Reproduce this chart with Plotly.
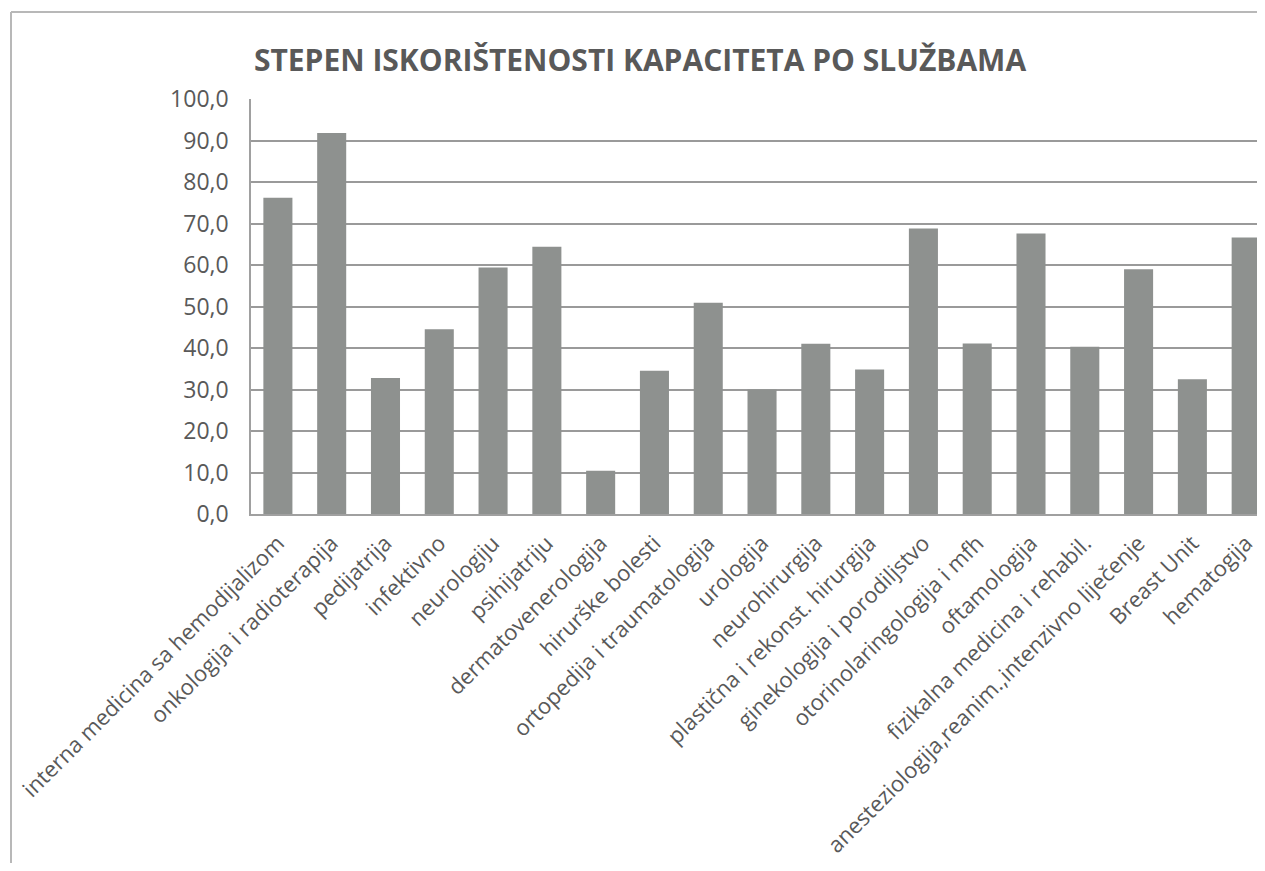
import plotly.graph_objects as go

categories = [
    "interna medicina sa hemodijalizom",
    "onkologija i radioterapija",
    "pedijatrija",
    "infektivno",
    "neurologiju",
    "psihijatriju",
    "dermatovenerologija",
    "hirurške bolesti",
    "ortopedija i traumatologija",
    "urologija",
    "neurohirurgija",
    "plastična i rekonst. hirurgija",
    "ginekologija i porodiljstvo",
    "otorinolaringologija i mfh",
    "oftamologija",
    "fizikalna medicina i rehabil.",
    "anesteziologija,reanim.,intenzivno liječenje",
    "Breast Unit",
    "hematogija",
]
values = [76.2, 91.8, 32.8, 44.5, 59.4, 64.4, 10.4, 34.5, 50.9, 30.0,
          41.0, 34.8, 68.8, 41.1, 67.6, 40.3, 59.0, 32.5, 66.6]
y_tick_vals = [0, 10, 20, 30, 40, 50, 60, 70, 80, 90, 100]
y_tick_text = ["0,0", "10,0", "20,0", "30,0", "40,0", "50,0", "60,0",
               "70,0", "80,0", "90,0", "100,0"]
title_text = "STEPEN ISKORIŠTENOSTI KAPACITETA PO SLUŽBAMA"

# page has an 8px body margin; target coordinates below are screen pixels
OFF = 8
W, H = 1265 - OFF, 871 - 2 * OFF
ML, MR, MT = 251 - OFF, 0, 99 - OFF
MB = H - (514 - OFF)
pw, ph = W - ML - MR, H - MT - MB


def px(x):
    return (x - OFF - ML) / pw


def py(y):
    return (H - MB - (y - OFF)) / ph


fig = go.Figure(go.Bar(
    x=categories, y=values,
    marker=dict(color="#8e918f", line=dict(width=0)),
    width=0.54,
))

fig.update_layout(
    width=W, height=H,
    margin=dict(l=ML, r=MR, t=MT, b=MB),
    paper_bgcolor="white", plot_bgcolor="white",
    showlegend=False,
    font=dict(family="Open Sans, sans-serif", color="#595959"),
    title=dict(text="<b>" + title_text + "</b>", x=px(640), xref="paper",
               xanchor="center", y=1 - (60 - OFF) / H, yanchor="middle",
               font=dict(size=30, color="#595959",
                         family="Open Sans, sans-serif")),
    xaxis=dict(range=[-0.5, 18.35],
               tickangle=-45, tickfont=dict(size=22, color="#595959"),
               ticklabelstandoff=6,
               showgrid=False, showline=True, linecolor="#a0a0a0",
               linewidth=1.5, ticks="", automargin=False),
    yaxis=dict(range=[0, 100], tickvals=y_tick_vals, ticktext=y_tick_text,
               tickfont=dict(size=23, color="#595959"),
               ticklabelstandoff=16,
               showgrid=True, gridcolor="#9a9a9a", gridwidth=1.5,
               showline=True, linecolor="#a0a0a0", linewidth=1.5,
               ticks="", ticklen=0, zeroline=False, automargin=False),
    bargap=0.46,
)

fig.add_shape(type="line", xref="paper", yref="paper",
              x0=px(11), x1=px(1265), y0=py(12), y1=py(12),
              line=dict(color="#b8b8b8", width=2))
fig.add_shape(type="line", xref="paper", yref="paper",
              x0=px(11), x1=px(11), y0=py(12), y1=py(871),
              line=dict(color="#b8b8b8", width=2))

fig.write_html("out.html")
